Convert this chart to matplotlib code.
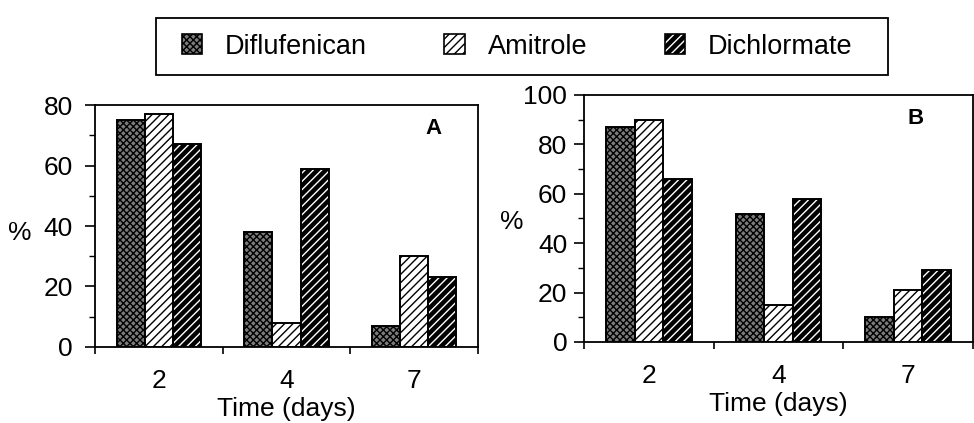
import matplotlib
matplotlib.use('Agg')
import matplotlib.pyplot as plt
import numpy as np
from matplotlib.patches import Patch, Rectangle
from matplotlib.legend_handler import HandlerTuple

days = ['2', '4', '7']
series = ['Diflufenican', 'Amitrole', 'Dichlormate']
a_diflufenican = [75, 38, 7]
a_amitrole = [77, 8, 30]
a_dichlormate = [67, 59, 23]
b_diflufenican = [87, 52, 10]
b_amitrole = [90, 15, 21]
b_dichlormate = [66, 58, 29]

plt.rcParams['font.family'] = ['Liberation Sans', 'DejaVu Sans']
plt.rcParams['hatch.linewidth'] = 1.0

styles = {
    'Diflufenican': dict(face='#7c7c7c', hatch='xxxxx', hcolor='black'),
    'Amitrole': dict(face='white', hatch='////', hcolor='black'),
    'Dichlormate': dict(face='black', hatch='////', hcolor='white'),
}

fig = plt.figure(figsize=(9.74, 4.23), dpi=100)
axA = fig.add_axes([0.0975, 0.1797, 0.3933, 0.572])
axB = fig.add_axes([0.5996, 0.1915, 0.399, 0.584])

FS = 19


def draw(ax, data, ymax, letter, letter_xy, pct_xy, ypad):
    x = np.arange(len(days))
    w = 0.22
    for i, (name, vals) in enumerate(zip(series, data)):
        st = styles[name]
        pos = x + (i - 1) * w
        ax.bar(pos, vals, w, color=st['face'], edgecolor=st['hcolor'],
               hatch=st['hatch'], linewidth=0, zorder=2)
        ax.bar(pos, vals, w, fill=False, edgecolor='black', linewidth=1.4, zorder=3)
    ax.set_xlim(-0.5, 2.5)
    ax.set_ylim(0, ymax)
    ax.set_yticks(np.arange(0, ymax + 1, 20))
    ax.set_yticks(np.arange(10, ymax, 20), minor=True)
    ax.set_xticks(x)
    ax.set_xticklabels(days)
    ax.set_xticks([-0.5, 0.5, 1.5, 2.5], minor=True)
    ax.tick_params(axis='y', which='major', length=7, width=1.2, direction='out',
                   labelsize=FS, pad=ypad)
    ax.tick_params(axis='y', which='minor', length=4, width=1.0, direction='out')
    ax.tick_params(axis='x', which='major', length=0, labelsize=FS, pad=16)
    ax.tick_params(axis='x', which='minor', length=5, width=1.2, direction='out')
    for s in ax.spines.values():
        s.set_linewidth(1.3)
    ax.set_xlabel('Time (days)', fontsize=FS, labelpad=3)
    ax.text(pct_xy[0], pct_xy[1], '%', transform=ax.transAxes, ha='center',
            va='center', fontsize=FS)
    ax.text(letter_xy[0], letter_xy[1], letter, transform=ax.transAxes,
            ha='center', va='center', fontsize=16, fontweight='bold')


draw(axA, [a_diflufenican, a_amitrole, a_dichlormate], 80, 'A', (0.883, 0.905),
     (-0.196, 0.47), 9)
draw(axB, [b_diflufenican, b_amitrole, b_dichlormate], 100, 'B', (0.852, 0.905),
     (-0.187, 0.486), 5)

handles = []
for name in series:
    st = styles[name]
    handles.append((Patch(facecolor=st['face'], edgecolor=st['hcolor'], hatch=st['hatch'], linewidth=0),
                    Patch(fill=False, edgecolor='black', linewidth=1.2)))

leg = fig.legend(handles, series, loc='center', bbox_to_anchor=(0.531, 0.89), ncol=3,
                 handler_map={tuple: HandlerTuple(ndivide=1)}, fontsize=19.5,
                 handlelength=0.75, handleheight=0.75, handletextpad=0.85,
                 columnspacing=2.85, borderpad=0.3, frameon=False)

fig.patches.append(Rectangle((156 / 974, 1 - 75 / 423), 732 / 974, 57 / 423,
                             transform=fig.transFigure, fill=False,
                             edgecolor='black', linewidth=1.3))

fig.savefig('out.png', dpi=100)
